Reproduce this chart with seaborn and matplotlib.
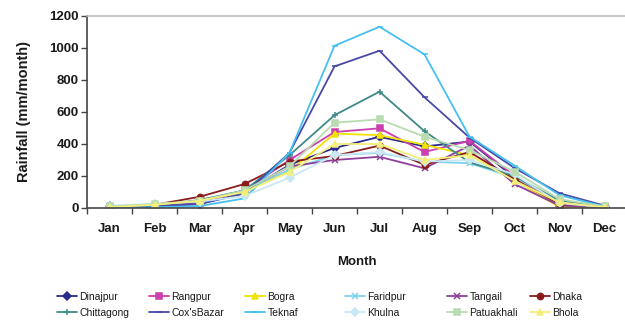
import matplotlib
matplotlib.use("Agg")
import matplotlib.pyplot as plt
from matplotlib.ticker import FixedLocator
import seaborn as sns
import pandas as pd

months = ["Jan", "Feb", "Mar", "Apr", "May", "Jun",
          "Jul", "Aug", "Sep", "Oct", "Nov", "Dec"]

# Monthly rainfall (mm/month) per station
dinajpur   = [10, 12, 25, 95, 270, 375, 445, 385, 415, 190, 15, 5]
rangpur    = [8, 12, 30, 110, 300, 475, 498, 350, 420, 200, 20, 5]
bogra      = [7, 12, 35, 110, 230, 465, 455, 395, 330, 175, 5, 5]
faridpur   = [8, 20, 45, 110, 240, 330, 345, 290, 280, 190, 20, 5]
tangail    = [12, 15, 35, 110, 260, 300, 320, 248, 390, 150, 15, 5]
dhaka      = [8, 20, 70, 150, 290, 325, 390, 270, 350, 180, 25, 12]
chittagong = [5, 15, 50, 110, 330, 580, 727, 480, 285, 200, 45, 10]
coxsbazar  = [5, 10, 25, 90, 345, 885, 983, 692, 440, 250, 92, 15]
teknaf     = [3, 5, 12, 60, 345, 1014, 1133, 960, 446, 265, 80, 10]
khulna     = [15, 25, 40, 75, 190, 330, 350, 290, 300, 210, 30, 5]
patuakhali = [10, 25, 45, 110, 260, 533, 554, 446, 362, 227, 55, 10]
bhola      = [5, 20, 45, 100, 225, 400, 400, 300, 330, 170, 35, 5]

stations = ["Dinajpur", "Rangpur", "Bogra", "Faridpur", "Tangail", "Dhaka",
            "Chittagong", "Cox'sBazar", "Teknaf", "Khulna", "Patuakhali", "Bhola"]
series = [dinajpur, rangpur, bogra, faridpur, tangail, dhaka,
          chittagong, coxsbazar, teknaf, khulna, patuakhali, bhola]

styles = {
    "Dinajpur":   dict(color="#2b2b8c", marker="D", ms=4),
    "Rangpur":    dict(color="#cc3fae", marker="s", ms=4.5),
    "Bogra":      dict(color="#f2e200", marker="^", ms=5),
    "Faridpur":   dict(color="#7fd3ef", marker="x", ms=4.5),
    "Tangail":    dict(color="#8e3f9e", marker="x", ms=4.5),
    "Dhaka":      dict(color="#8c1c1c", marker="o", ms=4.5),
    "Chittagong": dict(color="#3f8a86", marker="+", ms=5),
    "Cox'sBazar": dict(color="#4848a6", marker="_", ms=5),
    "Teknaf":     dict(color="#45c0f0", marker="_", ms=5),
    "Khulna":     dict(color="#c9e8f4", marker="D", ms=4),
    "Patuakhali": dict(color="#b8dcb0", marker="s", ms=4.5),
    "Bhola":      dict(color="#f4ee7c", marker="^", ms=5),
}

sns.set_theme(style="white")
plt.rcParams["font.family"] = ["Liberation Sans", "DejaVu Sans"]

W, H = 625, 321
fig = plt.figure(figsize=(W / 100, H / 100), dpi=100)
ax = fig.add_axes([87 / W, (H - 208) / H, 540 / W, 192 / H])

for name, vals in zip(stations, series):
    st = styles[name]
    df = pd.DataFrame({"Month": months, "Rainfall": vals})
    sns.lineplot(data=df, x="Month", y="Rainfall", ax=ax, sort=False,
                 color=st["color"], marker=st["marker"], markersize=st["ms"],
                 markeredgecolor=st["color"], markeredgewidth=1.1,
                 linewidth=1.3, label=name)

ax.set_xlim(-0.5, 11.5)
ax.set_ylim(0, 1200)
ax.set_yticks(range(0, 1201, 200))
ax.set_xticks(range(12))
ax.set_xticklabels(months)
ax.xaxis.set_minor_locator(FixedLocator([i - 0.5 for i in range(13)]))

ax.tick_params(axis="x", which="major", length=0, pad=11,
               labelsize=9.5, colors="#1a1a1a")
ax.tick_params(axis="x", which="minor", bottom=True, length=4, width=1,
               direction="out", color="#444444")
ax.tick_params(axis="y", which="major", left=True, length=4, width=1,
               direction="out", color="#444444", labelsize=9.5, pad=2,
               labelcolor="#1a1a1a")
for lab in ax.get_xticklabels() + ax.get_yticklabels():
    lab.set_fontweight("bold")

for side in ("left", "bottom"):
    ax.spines[side].set_color("#444444")
    ax.spines[side].set_linewidth(1.2)
ax.spines["top"].set_color("#bbbbbb")
ax.spines["top"].set_linewidth(1.2)
ax.spines["right"].set_visible(False)
ax.grid(False)

ax.set_xlabel("Month", fontsize=9.5, fontweight="bold", labelpad=15, color="#1a1a1a")
ax.set_ylabel("Rainfall (mm/month)", fontsize=10.5, fontweight="bold",
              labelpad=13, color="#1a1a1a")

handles, labels = ax.get_legend_handles_labels()
ax.get_legend().remove()

# legend: six columns of two entries each, at fixed horizontal slots
col_text_x = [80, 172, 268, 368, 470, 553]
legend_top = (H - 292) / H
for c, tx in enumerate(col_text_x):
    idx = [c, c + 6]
    fs = 7.5
    hl_px = 20
    leg = fig.legend([handles[i] for i in idx], [labels[i] for i in idx],
                     loc="upper left",
                     bbox_to_anchor=((tx - hl_px - 3) / W, legend_top),
                     frameon=False, fontsize=fs,
                     handlelength=hl_px / (fs * 100 / 72),
                     handletextpad=0.25, labelspacing=0.55,
                     borderpad=0, borderaxespad=0)
    for t in leg.get_texts():
        t.set_color("#1a1a1a")

fig.savefig("out.png", dpi=100)
